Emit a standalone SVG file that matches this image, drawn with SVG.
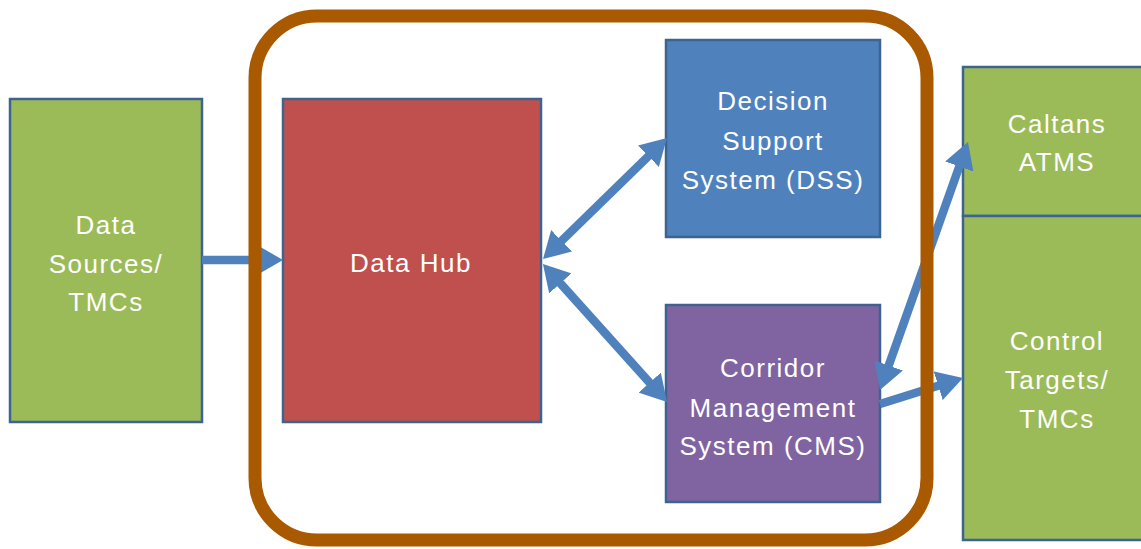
<svg xmlns="http://www.w3.org/2000/svg" width="1141" height="549" viewBox="0 0 1141 549">
<style>
.box{stroke:#3F6390;stroke-width:2.5}
.g{fill:#9BBB59}.r{fill:#C0504D}.b{fill:#4F81BD}.p{fill:#8064A2}
text{font-family:"Liberation Sans",Arial,sans-serif;font-size:26px;fill:#FFFFFF;text-anchor:middle;letter-spacing:1.5px}
.c{stroke:#4F81BD;stroke-width:8.5;fill:none}
</style>
<defs>
<marker id="ah" markerUnits="userSpaceOnUse" markerWidth="26" markerHeight="30" refX="15" refY="15" orient="auto-start-reverse" viewBox="0 0 26 30">
<path d="M0,0 L26,15 L0,30 z" fill="#4F81BD"/>
</marker>
</defs>
<rect width="1141" height="549" fill="#FFFFFF"/>
<g id="data-sources"><rect class="box g" x="10" y="99" width="192" height="323"/>
<text x="106" y="234">Data</text><text x="106" y="273">Sources/</text><text x="106" y="311">TMCs</text></g>
<g id="data-hub"><rect class="box r" x="283" y="99" width="258" height="323"/>
<text x="411" y="272">Data Hub</text></g>
<g id="dss"><rect class="box b" x="666" y="40" width="214" height="197"/>
<text x="773" y="110">Decision</text><text x="773" y="150">Support</text><text x="773" y="189">System (DSS)</text></g>
<g id="cms"><rect class="box p" x="666" y="305" width="214" height="197"/>
<text x="773" y="377">Corridor</text><text x="773" y="417">Management</text><text x="773" y="455">System (CMS)</text></g>
<g id="caltrans"><rect class="box g" x="963" y="67" width="190" height="149"/>
<text x="1057" y="133">Caltans</text><text x="1057" y="171">ATMS</text></g>
<g id="control"><rect class="box g" x="963" y="216" width="190" height="324"/>
<text x="1057" y="350">Control</text><text x="1057" y="389">Targets/</text><text x="1057" y="428">TMCs</text></g>
<g id="connectors">
<line class="c" x1="202" y1="260" x2="272" y2="260" marker-end="url(#ah)"/>
<line class="c" x1="550.9" y1="251.3" x2="659.1" y2="145.7" marker-start="url(#ah)" marker-end="url(#ah)"/>
<line class="c" x1="550.3" y1="272.2" x2="659.7" y2="393.8" marker-start="url(#ah)" marker-end="url(#ah)"/>
<line class="c" x1="883.7" y1="379.6" x2="964.3" y2="152.4" marker-start="url(#ah)" marker-end="url(#ah)"/>
<line class="c" x1="880" y1="404" x2="952.5" y2="381.3" marker-end="url(#ah)"/>
</g>
<g id="corridor-boundary"><rect x="255" y="16" width="672" height="524" rx="62" ry="62" fill="none" stroke="#A95A00" stroke-width="13"/></g>
</svg>
